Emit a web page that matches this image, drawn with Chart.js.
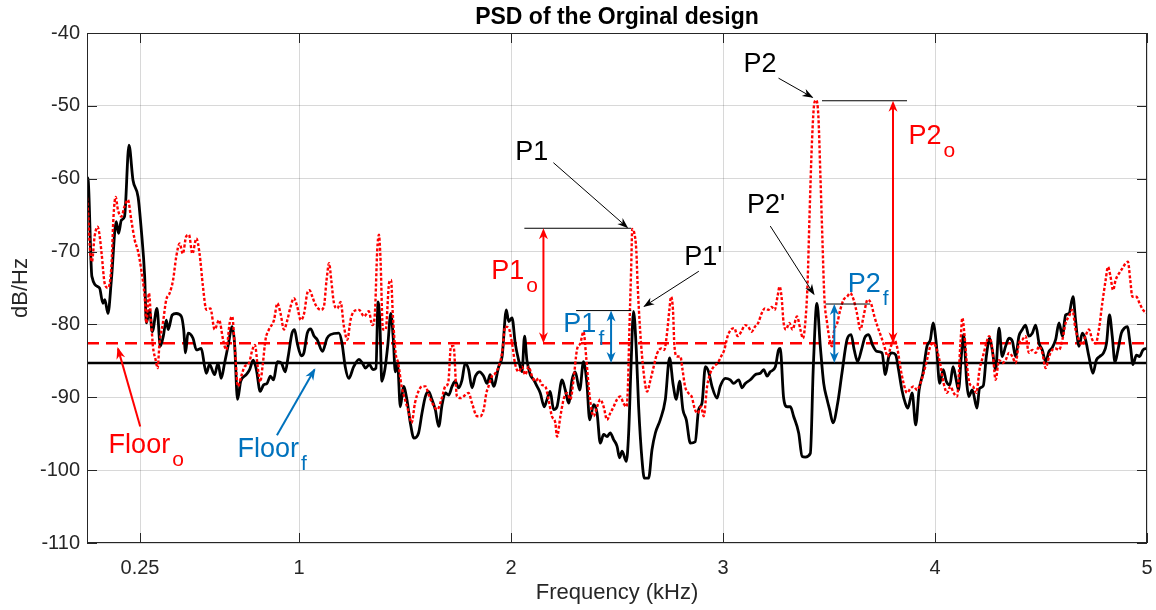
<!DOCTYPE html>
<html>
<head>
<meta charset="utf-8">
<title>PSD of the Orginal design</title>
<script src="https://cdn.jsdelivr.net/npm/chart.js@4.4.1/dist/chart.umd.min.js"></script>
<style>
  html, body { margin: 0; padding: 0; background: #fff; }
  canvas { display: block; }
</style>
</head>
<body>
<canvas id="psd" width="1156" height="610"></canvas>
<script>
// final design (black solid), frequency in kHz / level in dB/Hz
const freqFinal = [
  0, 0.004, 0.023, 0.059, 0.075, 0.084, 0.099, 0.115, 0.138, 0.149,
  0.162, 0.177, 0.198, 0.217, 0.241, 0.256, 0.272, 0.280, 0.295, 0.308,
  0.330, 0.346, 0.360, 0.374, 0.383, 0.402, 0.421, 0.445, 0.456, 0.465,
  0.476, 0.500, 0.516, 0.539, 0.555, 0.563, 0.578, 0.602, 0.618, 0.633,
  0.649, 0.665, 0.685, 0.696, 0.710, 0.725, 0.751, 0.767, 0.784, 0.799,
  0.817, 0.833, 0.849, 0.865, 0.880, 0.898, 0.917, 0.935, 0.949, 0.967,
  0.979, 0.992, 1.011, 1.023, 1.039, 1.055, 1.071, 1.086, 1.111, 1.132,
  1.148, 1.188, 1.203, 1.218, 1.235, 1.258, 1.283, 1.299, 1.314, 1.332,
  1.349, 1.363, 1.373, 1.381, 1.391, 1.405, 1.419, 1.433, 1.445, 1.454,
  1.465, 1.478, 1.493, 1.509, 1.525, 1.542, 1.564, 1.580, 1.596, 1.611,
  1.627, 1.643, 1.659, 1.675, 1.690, 1.706, 1.722, 1.737, 1.753, 1.769,
  1.784, 1.800, 1.816, 1.832, 1.852, 1.871, 1.887, 1.902, 1.918, 1.942,
  1.958, 1.978, 1.989, 2.005, 2.020, 2.036, 2.052, 2.064, 2.075, 2.091,
  2.107, 2.123, 2.138, 2.157, 2.170, 2.185, 2.201, 2.217, 2.241, 2.256,
  2.272, 2.288, 2.303, 2.324, 2.342, 2.358, 2.371, 2.390, 2.406, 2.421,
  2.437, 2.453, 2.468, 2.484, 2.500, 2.512, 2.524, 2.544, 2.555, 2.566,
  2.578, 2.591, 2.602, 2.618, 2.629, 2.649, 2.665, 2.681, 2.704, 2.728,
  2.748, 2.764, 2.780, 2.795, 2.811, 2.827, 2.846, 2.869, 2.885, 2.901,
  2.917, 2.932, 2.948, 2.972, 2.987, 3.011, 3.034, 3.050, 3.074, 3.090,
  3.105, 3.129, 3.152, 3.176, 3.192, 3.208, 3.223, 3.247, 3.262, 3.270,
  3.286, 3.302, 3.318, 3.333, 3.357, 3.373, 3.388, 3.412, 3.426, 3.443,
  3.459, 3.475, 3.491, 3.503, 3.519, 3.541, 3.561, 3.585, 3.604, 3.619,
  3.635, 3.653, 3.669, 3.687, 3.705, 3.726, 3.750, 3.766, 3.782, 3.797,
  3.815, 3.828, 3.844, 3.860, 3.872, 3.892, 3.909, 3.925, 3.943, 3.962,
  3.978, 3.991, 4.006, 4.022, 4.039, 4.053, 4.070, 4.085, 4.098, 4.111,
  4.124, 4.135, 4.150, 4.159, 4.176, 4.198, 4.210, 4.228, 4.242, 4.258,
  4.270, 4.286, 4.302, 4.317, 4.333, 4.349, 4.365, 4.380, 4.396, 4.412,
  4.427, 4.443, 4.459, 4.475, 4.491, 4.506, 4.522, 4.538, 4.553, 4.569,
  4.585, 4.601, 4.616, 4.632, 4.651, 4.663, 4.679, 4.695, 4.710, 4.726,
  4.745, 4.761, 4.777, 4.795, 4.809, 4.823, 4.836, 4.849, 4.863, 4.879,
  4.894, 4.907, 4.921, 4.934, 4.950, 4.965, 4.981, 5.000
];
const psdFinal = [
  -62.4, -59.9, -73.4, -75.0, -77.1, -76.6, -78.5, -73.9, -65.9, -67.5,
  -65.7, -65.2, -55.4, -60.2, -62.5, -67.0, -73.4, -79.8, -78.0, -81.0,
  -77.8, -83.0, -81.6, -79.4, -80.7, -78.7, -78.5, -78.9, -80.7, -83.9,
  -81.2, -81.9, -83.5, -83.3, -85.8, -86.7, -85.5, -86.9, -85.3, -87.4,
  -85.3, -83.0, -80.3, -82.6, -90.3, -87.8, -86.9, -86.2, -84.9, -86.2,
  -89.2, -88.3, -88.1, -87.1, -87.6, -85.1, -85.3, -86.5, -84.4, -81.2,
  -80.7, -82.6, -84.3, -83.9, -81.2, -80.6, -81.6, -82.1, -83.7, -81.9,
  -81.4, -81.2, -82.6, -85.8, -87.4, -85.8, -84.8, -85.3, -86.0, -85.5,
  -86.2, -86.0, -76.9, -79.4, -87.8, -86.2, -82.8, -78.5, -82.1, -86.5,
  -85.5, -91.3, -88.5, -90.3, -93.5, -95.6, -94.9, -92.2, -89.9, -89.2,
  -90.3, -91.7, -94.0, -91.0, -89.4, -89.7, -88.5, -87.8, -88.7, -87.6,
  -85.3, -86.2, -88.7, -87.1, -86.5, -87.1, -88.1, -86.9, -88.5, -85.8,
  -84.4, -78.0, -79.6, -79.1, -82.6, -84.9, -86.5, -81.6, -84.9, -86.9,
  -87.6, -88.5, -89.4, -91.3, -90.3, -89.2, -91.7, -91.3, -87.6, -89.0,
  -90.8, -87.6, -86.5, -89.0, -85.1, -88.1, -93.1, -91.0, -92.2, -96.3,
  -95.1, -95.4, -94.9, -95.8, -96.7, -98.3, -97.4, -98.8, -94.9, -85.8,
  -78.2, -83.5, -91.3, -98.6, -101.1, -101.1, -97.2, -94.9, -93.1, -90.3,
  -84.6, -88.1, -90.3, -87.8, -91.7, -93.1, -96.3, -96.1, -91.7, -90.8,
  -85.8, -86.5, -88.5, -90.1, -88.5, -87.4, -87.6, -88.1, -87.6, -88.7,
  -88.1, -87.6, -86.9, -86.7, -86.2, -87.1, -86.5, -85.8, -83.5, -83.3,
  -90.1, -91.3, -91.3, -92.6, -94.9, -98.1, -98.2, -97.7, -85.8, -77.1,
  -83.0, -88.1, -90.3, -91.7, -93.5, -90.8, -86.7, -82.1, -81.4, -83.5,
  -85.1, -83.5, -81.8, -81.4, -82.8, -83.7, -83.9, -86.9, -84.4, -83.9,
  -84.2, -86.2, -89.0, -90.8, -91.5, -89.4, -93.8, -89.0, -86.7, -83.0,
  -82.1, -79.8, -82.6, -88.1, -86.2, -87.8, -88.3, -85.8, -87.3, -89.0,
  -84.4, -81.4, -88.1, -89.9, -89.0, -91.5, -88.8, -88.4, -84.4, -81.9,
  -83.5, -86.2, -80.5, -84.4, -83.0, -81.9, -82.3, -84.4, -81.6, -80.7,
  -80.1, -81.6, -81.2, -80.1, -82.6, -83.5, -85.1, -83.7, -83.2, -82.1,
  -79.8, -81.6, -78.7, -78.5, -76.2, -79.4, -83.0, -81.2, -82.1, -84.4,
  -86.7, -84.9, -84.4, -83.9, -82.6, -78.7, -81.6, -85.2, -83.5, -81.2,
  -80.5, -80.3, -82.8, -85.5, -84.2, -84.4, -83.5, -83.3
];

// original design (red dotted)
const freqOrig = [
  0, 0.006, 0.013, 0.023, 0.036, 0.050, 0.058, 0.069, 0.083, 0.099,
  0.115, 0.125, 0.135, 0.146, 0.162, 0.177, 0.193, 0.209, 0.225, 0.241,
  0.256, 0.272, 0.280, 0.292, 0.303, 0.311, 0.324, 0.333, 0.342, 0.358,
  0.374, 0.390, 0.406, 0.421, 0.437, 0.452, 0.468, 0.481, 0.497, 0.516,
  0.531, 0.547, 0.563, 0.582, 0.602, 0.623, 0.642, 0.657, 0.673, 0.685,
  0.696, 0.712, 0.728, 0.743, 0.764, 0.780, 0.792, 0.806, 0.817, 0.829,
  0.842, 0.858, 0.882, 0.898, 0.913, 0.929, 0.945, 0.960, 0.976, 0.992,
  1.008, 1.024, 1.039, 1.050, 1.063, 1.078, 1.102, 1.117, 1.130, 1.142,
  1.152, 1.165, 1.181, 1.196, 1.212, 1.228, 1.243, 1.259, 1.283, 1.307,
  1.329, 1.346, 1.358, 1.369, 1.377, 1.384, 1.396, 1.409, 1.425, 1.434,
  1.443, 1.456, 1.468, 1.484, 1.500, 1.516, 1.531, 1.547, 1.566, 1.582,
  1.597, 1.612, 1.629, 1.652, 1.674, 1.690, 1.704, 1.717, 1.729, 1.745,
  1.763, 1.784, 1.800, 1.816, 1.840, 1.855, 1.871, 1.884, 1.894, 1.910,
  1.926, 1.942, 1.958, 1.973, 1.989, 2.005, 2.020, 2.036, 2.052, 2.067,
  2.083, 2.099, 2.115, 2.130, 2.146, 2.162, 2.177, 2.193, 2.209, 2.217,
  2.233, 2.248, 2.264, 2.280, 2.295, 2.311, 2.327, 2.342, 2.355, 2.371,
  2.390, 2.406, 2.421, 2.437, 2.453, 2.468, 2.484, 2.500, 2.516, 2.530,
  2.544, 2.551, 2.558, 2.567, 2.572, 2.582, 2.591, 2.597, 2.610, 2.626,
  2.642, 2.658, 2.673, 2.689, 2.708, 2.723, 2.736, 2.747, 2.755, 2.764,
  2.771, 2.783, 2.799, 2.809, 2.821, 2.836, 2.852, 2.868, 2.880, 2.896,
  2.909, 2.925, 2.940, 2.956, 2.975, 2.991, 3.006, 3.022, 3.038, 3.053,
  3.069, 3.086, 3.104, 3.119, 3.135, 3.151, 3.166, 3.182, 3.198, 3.214,
  3.229, 3.244, 3.257, 3.267, 3.276, 3.286, 3.297, 3.313, 3.328, 3.349,
  3.365, 3.377, 3.388, 3.399, 3.408, 3.420, 3.431, 3.440, 3.450, 3.459,
  3.469, 3.478, 3.491, 3.503, 3.514, 3.525, 3.539, 3.553, 3.569, 3.585,
  3.600, 3.616, 3.632, 3.648, 3.663, 3.682, 3.698, 3.714, 3.729, 3.745,
  3.761, 3.777, 3.792, 3.808, 3.824, 3.836, 3.852, 3.868, 3.884, 3.899,
  3.915, 3.931, 3.946, 3.962, 3.978, 3.994, 4.009, 4.025, 4.041, 4.057,
  4.072, 4.088, 4.104, 4.120, 4.129, 4.139, 4.150, 4.163, 4.179, 4.195,
  4.210, 4.226, 4.242, 4.255, 4.271, 4.286, 4.302, 4.318, 4.333, 4.349,
  4.365, 4.380, 4.396, 4.412, 4.427, 4.443, 4.459, 4.475, 4.491, 4.506,
  4.522, 4.538, 4.553, 4.569, 4.585, 4.601, 4.616, 4.632, 4.648, 4.663,
  4.679, 4.695, 4.710, 4.726, 4.742, 4.758, 4.773, 4.789, 4.805, 4.816,
  4.827, 4.840, 4.852, 4.868, 4.884, 4.899, 4.910, 4.921, 4.931, 4.950,
  4.965, 4.981, 5.000
];
const psdOrig = [
  -62.6, -65.0, -69.3, -71.4, -67.9, -66.6, -67.5, -70.3, -74.3, -75.0,
  -72.1, -65.2, -62.5, -64.3, -65.2, -63.8, -62.9, -65.7, -68.4, -70.0,
  -72.5, -76.2, -79.8, -75.7, -79.8, -83.0, -84.9, -86.0, -82.6, -79.8,
  -76.6, -75.7, -73.9, -70.7, -68.9, -70.3, -67.9, -67.7, -70.3, -68.2,
  -70.3, -74.8, -78.0, -77.8, -80.7, -79.4, -82.1, -83.5, -79.8, -78.9,
  -82.6, -88.5, -87.1, -85.8, -85.3, -83.5, -82.8, -86.0, -87.9, -85.5,
  -82.1, -80.7, -79.4, -77.1, -78.5, -80.7, -79.4, -77.6, -76.4, -77.6,
  -79.4, -78.5, -75.7, -75.3, -76.2, -77.3, -78.0, -77.6, -73.9, -71.6,
  -73.9, -77.1, -77.8, -76.9, -80.3, -82.1, -79.4, -78.2, -78.0, -78.9,
  -78.2, -80.1, -78.5, -69.8, -67.7, -70.7, -80.7, -80.7, -74.3, -73.9,
  -78.9, -84.0, -85.3, -88.5, -90.3, -91.9, -93.5, -90.8, -89.0, -88.5,
  -88.5, -89.7, -90.8, -91.7, -90.1, -88.5, -88.0, -83.0, -83.0, -89.9,
  -90.1, -89.7, -89.4, -90.8, -92.6, -92.6, -91.7, -89.4, -88.5, -87.1,
  -86.7, -85.8, -83.9, -80.3, -80.5, -82.6, -85.5, -86.5, -85.8, -86.9,
  -85.8, -87.1, -87.8, -87.4, -88.3, -88.5, -90.3, -92.6, -93.5, -95.4,
  -92.6, -90.3, -89.4, -90.3, -87.6, -83.5, -82.6, -81.0, -84.6, -89.9,
  -92.6, -91.3, -90.3, -91.3, -93.1, -92.2, -91.3, -90.3, -89.9, -90.8,
  -91.3, -89.0, -81.2, -72.1, -66.9, -67.5, -69.8, -74.3, -81.2, -86.7,
  -89.2, -87.6, -85.8, -84.0, -83.3, -83.5, -81.2, -78.0, -76.2, -78.0,
  -83.0, -84.4, -84.4, -86.2, -88.5, -89.4, -89.9, -91.7, -92.2, -91.3,
  -92.6, -88.5, -86.7, -85.8, -85.3, -84.4, -83.5, -81.6, -80.7, -80.5,
  -81.6, -81.0, -80.1, -80.3, -81.0, -80.3, -79.8, -78.5, -77.8, -78.0,
  -77.6, -78.0, -76.2, -74.8, -76.2, -79.8, -80.7, -79.8, -80.7, -78.9,
  -80.7, -81.9, -79.8, -74.3, -65.2, -54.7, -49.6, -49.2, -51.5, -59.2,
  -68.4, -76.2, -79.8, -82.1, -83.0, -80.7, -79.8, -78.0, -76.6, -76.2,
  -75.7, -76.6, -78.5, -80.7, -78.9, -76.6, -77.1, -78.9, -80.3, -81.6,
  -83.0, -84.4, -83.0, -82.1, -83.5, -85.8, -88.1, -89.4, -88.8, -88.5,
  -89.0, -88.1, -86.7, -84.9, -83.0, -82.6, -83.5, -85.5, -88.1, -89.4,
  -88.5, -89.4, -89.9, -82.6, -79.1, -81.4, -85.3, -88.1, -88.5, -89.4,
  -86.2, -84.4, -82.6, -81.6, -83.5, -87.6, -84.9, -85.3, -84.9, -83.9,
  -84.4, -85.3, -82.6, -82.1, -81.6, -83.9, -83.5, -83.9, -83.0, -83.9,
  -86.0, -84.4, -83.5, -83.3, -83.5, -82.1, -79.8, -78.9, -78.0, -80.7,
  -82.1, -82.8, -81.6, -80.7, -82.1, -82.6, -80.7, -77.1, -73.9, -72.1,
  -73.3, -75.3, -73.9, -73.0, -72.3, -71.6, -71.4, -73.9, -76.2, -76.2,
  -77.1, -78.0, -78.5
];

// noise floors
const floorOrig = -82.6;
const floorFinal = -85.3;

const xTicks = [0.25, 1, 2, 3, 4, 5];

const RED = '#ff0000';
const BLUE = '#0072bd';
const FONT = "'Liberation Sans', Arial, Helvetica, sans-serif";

// annotations, in kHz / dB
const peakLines = [          // [f start, f end, level]
  [2.063, 2.567, -66.8],
  [2.307, 2.567, -78.1],
  [3.467, 3.868, -49.3],
  [3.483, 3.694, -77.2]
];
const pointers = [           // [f from, dB from, f to, dB to, colour, width]
  [2.200, -57.8, 2.553, -66.8, '#000', 1],
  [2.886, -72.7, 2.624, -77.6, '#000', 1],
  [3.262, -46.2, 3.426, -48.9, '#000', 1],
  [3.223, -66.5, 3.432, -76.0, '#000', 1],
  [0.251, -94.0, 0.144, -83.1, RED, 2],
  [0.896, -95.2, 1.077, -86.0, BLUE, 2]
];
const spans = [              // [f, dB top, dB bottom, colour]
  [2.153, -66.8, floorOrig, RED],
  [2.472, -78.1, floorFinal, BLUE],
  [3.802, -49.3, floorOrig, RED],
  [3.525, -77.2, floorFinal, BLUE]
];
const notes = [              // [text, subscript, f, dB (baseline), colour]
  ['P1', '', 2.020, -57.4, '#000'],
  ["P1'", '', 2.817, -71.8, '#000'],
  ['P2', '', 3.097, -45.3, '#000'],
  ["P2'", '', 3.113, -64.7, '#000'],
  ['P1', 'o', 1.907, -73.8, RED],
  ['P1', 'f', 2.247, -81.0, BLUE],
  ['P2', 'o', 3.875, -55.2, RED],
  ['P2', 'f', 3.588, -75.5, BLUE],
  ['Floor', 'o', 0.102, -97.7, RED],
  ['Floor', 'f', 0.710, -98.2, BLUE]
];

function head(ctx, x0, y0, x1, y1, len, wid, color) {
  const ang = Math.atan2(y1 - y0, x1 - x0);
  ctx.save();
  ctx.translate(x1, y1);
  ctx.rotate(ang);
  ctx.beginPath();
  ctx.moveTo(0, 0);
  ctx.lineTo(-len, -wid / 2);
  ctx.lineTo(-len * 0.7, 0);
  ctx.lineTo(-len, wid / 2);
  ctx.closePath();
  ctx.fillStyle = color;
  ctx.fill();
  ctx.restore();
}

const annotate = {
  id: 'annotate',
  beforeDraw(chart) {
    const ctx = chart.ctx;
    ctx.save();
    ctx.fillStyle = '#fff';
    ctx.fillRect(0, 0, chart.width, chart.height);
    ctx.restore();
  },
  afterDatasetsDraw(chart) {
    const { ctx, chartArea: a } = chart;
    const xs = chart.scales.x, ys = chart.scales.y;
    const px = (v) => xs.getPixelForValue(v);
    const py = (v) => ys.getPixelForValue(v);
    ctx.save();

    // axes box and inward ticks
    ctx.strokeStyle = '#262626';
    ctx.lineWidth = 1;
    ctx.strokeRect(a.left + 0.5, a.top + 0.5, a.right - a.left - 1, a.bottom - a.top - 1);
    ctx.beginPath();
    xTicks.forEach((v) => {
      const x = Math.round(px(v)) + 0.5;
      ctx.moveTo(x, a.bottom); ctx.lineTo(x, a.bottom - 10);
      ctx.moveTo(x, a.top); ctx.lineTo(x, a.top + 10);
    });
    ys.ticks.forEach((t) => {
      const y = Math.round(py(t.value)) + 0.5;
      ctx.moveTo(a.left, y); ctx.lineTo(a.left + 10, y);
      ctx.moveTo(a.right, y); ctx.lineTo(a.right - 10, y);
    });
    ctx.stroke();

    // peak reference lines
    ctx.strokeStyle = '#000';
    ctx.lineWidth = 1;
    peakLines.forEach(([f0, f1, lv]) => {
      ctx.beginPath();
      ctx.moveTo(px(f0), py(lv));
      ctx.lineTo(px(f1), py(lv));
      ctx.stroke();
    });

    // pointer arrows
    pointers.forEach(([f0, d0, f1, d1, col, w]) => {
      const x0 = px(f0), y0 = py(d0), x1 = px(f1), y1 = py(d1);
      ctx.strokeStyle = col;
      ctx.lineWidth = w;
      ctx.beginPath();
      ctx.moveTo(x0, y0);
      ctx.lineTo(x1 - (x1 - x0) * 0.02, y1 - (y1 - y0) * 0.02);
      ctx.stroke();
      head(ctx, x0, y0, x1, y1, w > 1 ? 12 : 11, w > 1 ? 9 : 8, col);
    });

    // double-headed spans
    spans.forEach(([f, top, bot, col]) => {
      const x = px(f), y0 = py(top), y1 = py(bot);
      ctx.strokeStyle = col;
      ctx.lineWidth = 2;
      ctx.beginPath();
      ctx.moveTo(x, y0 + 4);
      ctx.lineTo(x, y1 - 4);
      ctx.stroke();
      head(ctx, x, y1, x, y0, 11, 9, col);
      head(ctx, x, y0, x, y1, 11, 9, col);
    });

    // labels with subscripts
    ctx.textBaseline = 'alphabetic';
    ctx.textAlign = 'left';
    notes.forEach(([txt, sub, f, d, col]) => {
      const x = px(f), y = py(d);
      ctx.fillStyle = col;
      ctx.font = '27px ' + FONT;
      ctx.fillText(txt, x, y);
      if (sub) {
        const w = ctx.measureText(txt).width;
        ctx.font = '21px ' + FONT;
        ctx.fillText(sub, x + w + 2, y + 13);
      }
    });

    // title
    ctx.fillStyle = '#000';
    ctx.font = 'bold 23px ' + FONT;
    ctx.textAlign = 'center';
    ctx.fillText('PSD of the Orginal design', (a.left + a.right) / 2, a.top - 9);
    ctx.restore();
  }
};

const toPoints = (fs, vs) => fs.map((f, i) => ({ x: f, y: vs[i] }));
const flat = (v) => [{ x: 0, y: v }, { x: 5, y: v }];

new Chart(document.getElementById('psd'), {
  type: 'line',
  data: {
    datasets: [
      {
        label: 'Original',
        data: toPoints(freqOrig, psdOrig),
        borderColor: RED,
        borderWidth: 2.4,
        borderDash: [3, 2],
        pointRadius: 0,
        cubicInterpolationMode: 'monotone'
      },
      {
        label: 'Final',
        data: toPoints(freqFinal, psdFinal),
        borderColor: '#000',
        borderWidth: 2.8,
        pointRadius: 0,
        cubicInterpolationMode: 'monotone'
      },
      {
        label: 'Floor original',
        data: flat(floorOrig),
        borderColor: RED,
        borderWidth: 2.5,
        borderDash: [12, 7],
        pointRadius: 0
      },
      {
        label: 'Floor final',
        data: flat(floorFinal),
        borderColor: '#000',
        borderWidth: 2.5,
        pointRadius: 0
      }
    ]
  },
  options: {
    responsive: false,
    animation: false,
    events: [],
    layout: { padding: { top: 33, right: 9, bottom: 0, left: 0 } },
    plugins: {
      legend: { display: false },
      tooltip: { enabled: false }
    },
    scales: {
      x: {
        type: 'linear',
        min: 0,
        max: 5,
        afterBuildTicks: (s) => { s.ticks = xTicks.map((v) => ({ value: v })); },
        afterFit: (s) => {
          s.height = 67;
          s.paddingLeft = 0;
          s.paddingRight = 0;
        },
        grid: { color: 'rgba(38,38,38,0.18)', drawTicks: false },
        border: { display: false },
        ticks: {
          autoSkip: false,
          maxRotation: 0,
          padding: 13,
          color: '#262626',
          font: { family: FONT, size: 20 },
          callback: (v) => String(v)
        },
        title: {
          display: true,
          text: 'Frequency (kHz)',
          color: '#262626',
          font: { family: FONT, size: 22 },
          padding: { top: 4, bottom: 4 }
        }
      },
      y: {
        min: -110,
        max: -40,
        afterFit: (s) => {
          s.width = 87;
          s.paddingTop = 0;
          s.paddingBottom = 0;
        },
        grid: { color: 'rgba(38,38,38,0.18)', drawTicks: false },
        border: { display: false },
        ticks: {
          stepSize: 10,
          padding: 7,
          color: '#262626',
          font: { family: FONT, size: 20 }
        },
        title: {
          display: true,
          text: 'dB/Hz',
          color: '#262626',
          font: { family: FONT, size: 22 },
          padding: { top: 8, bottom: 0 }
        }
      }
    }
  },
  plugins: [annotate]
});
</script>
</body>
</html>
